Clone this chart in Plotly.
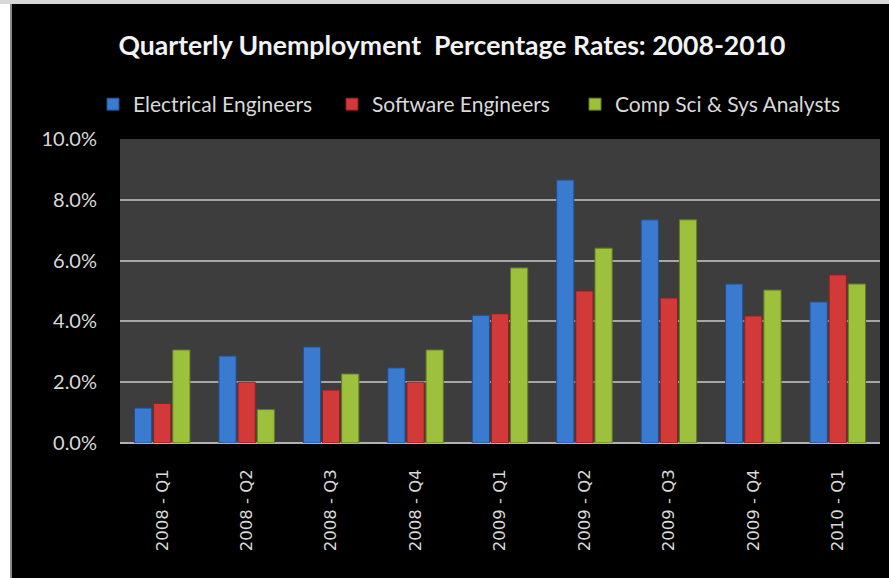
import plotly.graph_objects as go

quarters = ["2008 - Q1", "2008 - Q2", "2008 - Q3", "2008 - Q4", "2009 - Q1",
            "2009 - Q2", "2009 - Q3", "2009 - Q4", "2010 - Q1"]
electrical = [1.15, 2.86, 3.16, 2.47, 4.20, 8.65, 7.34, 5.23, 4.64]
software = [1.30, 2.00, 1.74, 2.00, 4.25, 5.00, 4.77, 4.18, 5.53]
compsci = [3.06, 1.10, 2.27, 3.06, 5.76, 6.41, 7.34, 5.03, 5.23]

series_names = ["Electrical Engineers", "Software Engineers", "Comp Sci & Sys Analysts"]
series_colors = ["#3a7bd0", "#d23a3a", "#9dc13c"]
line_colors = ["#1f4f8f", "#8f1f1f", "#5f7d1f"]
legend_ids = ["legend", "legend2", "legend3"]
legend_left_px = [93, 332, 575]

FONT = "Lato, 'Open Sans', sans-serif"

fig = go.Figure()
for name, vals, col, lc, lid in zip(series_names, [electrical, software, compsci],
                                    series_colors, line_colors, legend_ids):
    fig.add_trace(go.Bar(
        x=quarters, y=vals, name=name, legend=lid,
        marker=dict(color=col, line=dict(color=lc, width=1)),
    ))

# plot area geometry: left 120, right 880, top 139, bottom 443
L, R, T, B = 120, 880, 139, 443
W, H = R - L, B - T

def px(x):
    return (x - L) / W

def py(y):
    return (B - y) / H

shapes = [
    dict(type="rect", xref="paper", yref="paper", x0=px(0), x1=px(10), y0=py(578), y1=py(0),
         fillcolor="white", line=dict(width=0), layer="above"),
    dict(type="rect", xref="paper", yref="paper", x0=px(10), x1=px(12), y0=py(578), y1=py(4),
         fillcolor="#8a8a8a", line=dict(width=0), layer="above"),
    dict(type="rect", xref="paper", yref="paper", x0=px(0), x1=px(889), y0=py(4), y1=py(0),
         fillcolor="#d8d8d8", line=dict(width=0), layer="above"),
]

legend_common = dict(
    orientation="h", y=py(84), xanchor="left", yanchor="top",
    font=dict(family=FONT, size=21, color="#d9d9d9"),
    bgcolor="rgba(0,0,0,0)",
)

fig.update_layout(
    width=889, height=578,
    margin=dict(l=L, r=889 - R, t=T, b=578 - B, autoexpand=False),
    paper_bgcolor="black",
    plot_bgcolor="#3d3d3d",
    barmode="group",
    bargap=0.32,
    bargroupgap=0.1,
    title=dict(
        text="<b>Quarterly Unemployment  Percentage Rates: 2008-2010</b>",
        font=dict(family=FONT, size=26.6, color="#f2f2f2"),
        xref="container", yref="container", x=452 / 889, y=1 - 46 / 578,
        xanchor="center", yanchor="middle",
    ),
    legend=dict(x=px(legend_left_px[0]), **legend_common),
    legend2=dict(x=px(legend_left_px[1]), **legend_common),
    legend3=dict(x=px(legend_left_px[2]), **legend_common),
    xaxis=dict(
        tickangle=-90,
        tickfont=dict(family="DejaVu Sans", size=16.5, color="#d9d9d9"),
        showgrid=False, showline=False, ticks="", ticklabelstandoff=22,
        fixedrange=True,
    ),
    yaxis=dict(
        range=[0, 10], dtick=2, tickformat=".1f", ticksuffix="%",
        tickfont=dict(family=FONT, size=20, color="#d9d9d9"),
        showgrid=True, gridcolor="#a6a6a6", gridwidth=2,
        zeroline=True, zerolinecolor="#b0b0b0", zerolinewidth=2,
        ticks="", ticklabelstandoff=22, showline=False,
    ),
    shapes=shapes,
    showlegend=True,
)

fig.write_html("out.html")
